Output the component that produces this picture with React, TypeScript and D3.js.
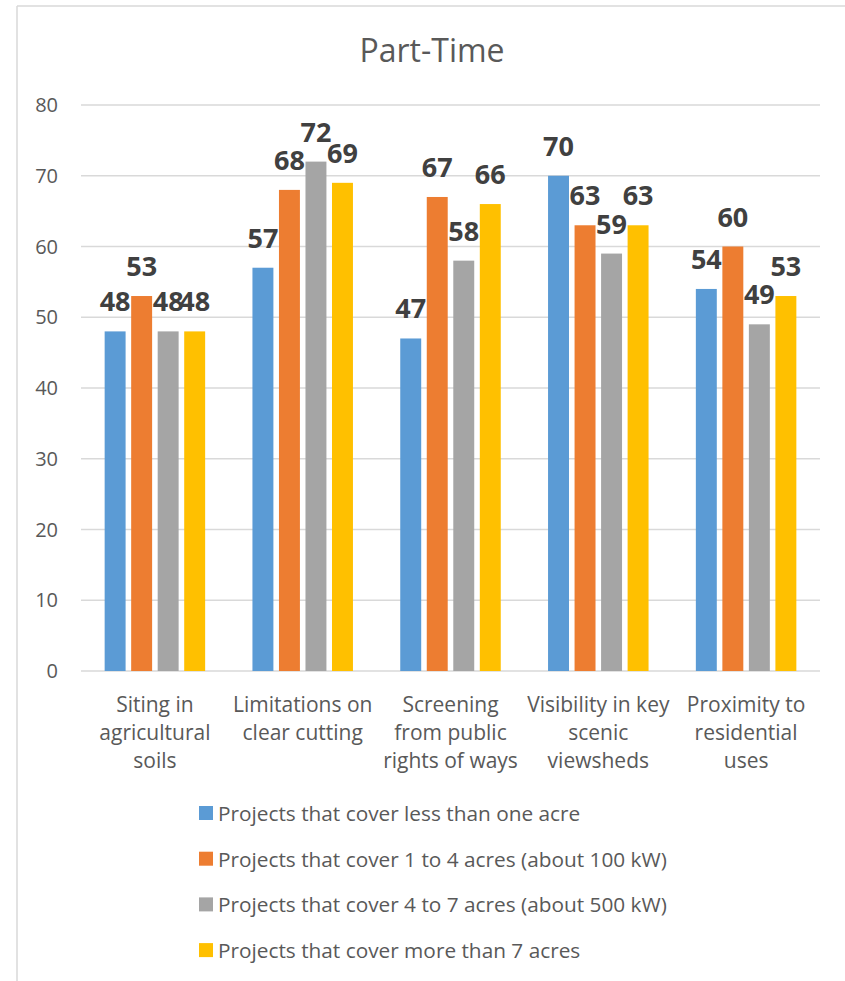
import React from "react";
import * as d3 from "d3";

const categories = [
  ["Siting in", "agricultural", "soils"],
  ["Limitations on", "clear cutting"],
  ["Screening", "from public", "rights of ways"],
  ["Visibility in key", "scenic", "viewsheds"],
  ["Proximity to", "residential", "uses"],
];
const seriesNames = [
  "Projects that cover less than one acre",
  "Projects that cover 1 to 4 acres (about 100 kW)",
  "Projects that cover 4 to 7 acres (about 500 kW)",
  "Projects that cover more than 7 acres",
];
const lessThanOne = [48, 57, 47, 70, 54];
const oneToFour = [53, 68, 67, 63, 60];
const fourToSeven = [48, 72, 58, 59, 49];
const moreThanSeven = [48, 69, 66, 63, 53];
const yTicks = [0, 10, 20, 30, 40, 50, 60, 70, 80];
const colors = ["#5B9BD5", "#ED7D31", "#A5A5A5", "#FFC000"];

const W = 845;
const H = 981;
const FONT = "'Open Sans', 'DejaVu Sans', sans-serif";

export default function App() {
  const series = [lessThanOne, oneToFour, fourToSeven, moreThanSeven];
  const catIdx = categories.map((_, i) => i);
  const x0 = d3.scaleBand<number>().domain(catIdx).range([81, 820]).padding(0);
  const bw0 = x0.bandwidth();
  const x1 = d3
    .scaleBand<number>()
    .domain([0, 1, 2, 3])
    .range([bw0 * 0.16, bw0 * 0.84])
    .paddingInner(0.21)
    .paddingOuter(0);
  const y = d3.scaleLinear().domain([0, 80]).range([671, 105]);

  return (
    <svg
      width={W}
      height={H}
      style={{ position: "absolute", left: 0, top: 0, background: "#fff" }}
      fontFamily={FONT}
    >
      <rect x={0} y={0} width={W} height={H} fill="#fff" />
      <line x1={17} y1={6} x2={W} y2={6} stroke="#D9D9D9" strokeWidth={1.5} />
      <line x1={17} y1={6} x2={17} y2={H} stroke="#D9D9D9" strokeWidth={1.5} />

      <text x={432} y={62} textAnchor="middle" fontSize={32} fill="#595959">
        Part-Time
      </text>

      {yTicks.map((t) => (
        <g key={t}>
          <line x1={81} x2={820} y1={y(t)} y2={y(t)} stroke="#D9D9D9" strokeWidth={1.5} />
          <text x={58} y={y(t) + 7} textAnchor="end" fontSize={20} fill="#595959">
            {t}
          </text>
        </g>
      ))}

      {series.map((vals, si) =>
        vals.map((v, ci) => {
          const bx = (x0(ci) as number) + (x1(si) as number);
          return (
            <rect
              key={`b${si}-${ci}`}
              x={bx}
              y={y(v)}
              width={x1.bandwidth()}
              height={y(0) - y(v)}
              fill={colors[si]}
            />
          );
        })
      )}

      {series.map((vals, si) =>
        vals.map((v, ci) => {
          const cx = (x0(ci) as number) + (x1(si) as number) + x1.bandwidth() / 2;
          return (
            <text
              key={`l${si}-${ci}`}
              x={cx}
              y={y(v) - 20}
              textAnchor="middle"
              fontSize={27}
              fontWeight={700}
              fill="#404040"
            >
              {v}
            </text>
          );
        })
      )}

      {categories.map((lines, ci) => (
        <text
          key={`c${ci}`}
          x={(x0(ci) as number) + bw0 / 2}
          y={712}
          textAnchor="middle"
          fontSize={21}
          fill="#595959"
        >
          {lines.map((ln, li) => (
            <tspan key={li} x={(x0(ci) as number) + bw0 / 2} dy={li === 0 ? 0 : 28}>
              {ln}
            </tspan>
          ))}
        </text>
      ))}

      {seriesNames.map((name, si) => (
        <g key={`lg${si}`}>
          <rect x={199} y={806 + si * 45.7} width={14} height={14} fill={colors[si]} />
          <text x={218} y={821 + si * 45.7} fontSize={20.8} fill="#595959">
            {name}
          </text>
        </g>
      ))}
    </svg>
  );
}
